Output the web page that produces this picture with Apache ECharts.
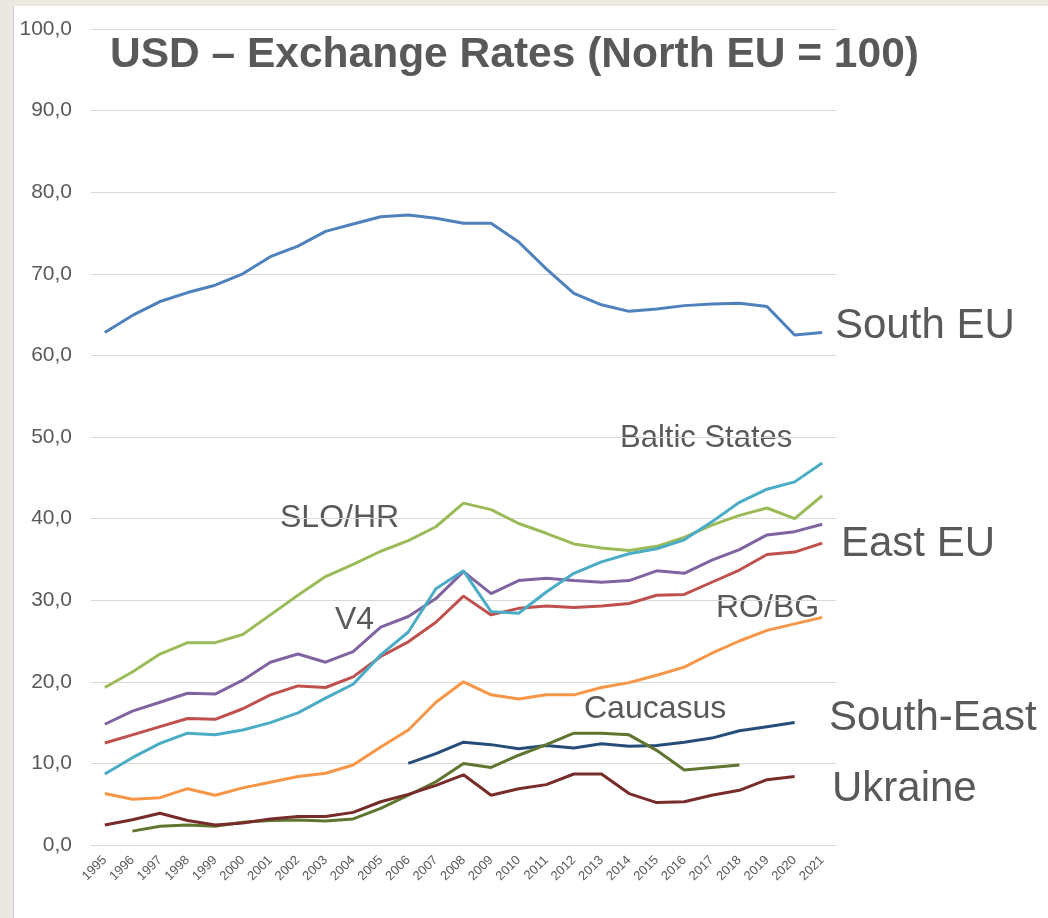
<!DOCTYPE html>
<html>
<head>
<meta charset="utf-8">
<script src="https://cdn.jsdelivr.net/npm/echarts@6/dist/echarts.min.js"></script>
<style>
  html, body { margin: 0; padding: 0; background: #ebe7e1; }
  #panel { position: absolute; left: 13px; top: 6px; width: 1035px; height: 912px; background: #ffffff; border-left: 1px solid #cfcbc6; box-sizing: border-box; }
  #chart { position: absolute; left: 0; top: 0; width: 1048px; height: 918px; }
</style>
</head>
<body>
<div id="panel"></div>
<div id="chart"></div>
<script>
const years = ['1995','1996','1997','1998','1999','2000','2001','2002','2003','2004','2005','2006','2007','2008','2009','2010','2011','2012','2013','2014','2015','2016','2017','2018','2019','2020','2021'];

const southEU     = [62.8, 64.9, 66.6, 67.7, 68.6, 70.0, 72.1, 73.4, 75.2, 76.1, 77.0, 77.2, 76.8, 76.2, 76.2, 73.9, 70.6, 67.6, 66.2, 65.4, 65.7, 66.1, 66.3, 66.4, 66.0, 62.5, 62.8];
const sloHr       = [19.3, 21.2, 23.4, 24.8, 24.8, 25.8, 28.2, 30.6, 32.9, 34.4, 36.0, 37.3, 39.0, 41.9, 41.1, 39.4, 38.2, 36.9, 36.4, 36.1, 36.6, 37.7, 39.2, 40.4, 41.3, 40.0, 42.8];
const v4          = [14.8, 16.4, 17.5, 18.6, 18.5, 20.2, 22.4, 23.4, 22.4, 23.7, 26.7, 28.0, 30.2, 33.5, 30.8, 32.4, 32.7, 32.4, 32.2, 32.4, 33.6, 33.3, 34.9, 36.2, 38.0, 38.4, 39.3];
const eastEU      = [12.5, 13.5, 14.5, 15.5, 15.4, 16.7, 18.4, 19.5, 19.3, 20.6, 23.1, 24.9, 27.3, 30.5, 28.2, 29.0, 29.3, 29.1, 29.3, 29.6, 30.6, 30.7, 32.2, 33.7, 35.6, 35.9, 37.0];
const baltic      = [8.7, 10.7, 12.45, 13.7, 13.5, 14.1, 15.0, 16.2, 18.0, 19.7, 23.3, 26.1, 31.4, 33.6, 28.6, 28.4, 31.0, 33.3, 34.7, 35.7, 36.3, 37.4, 39.6, 42.0, 43.6, 44.5, 46.8];
const roBg        = [6.3, 5.6, 5.8, 6.9, 6.1, 7.0, 7.7, 8.4, 8.8, 9.8, 12.0, 14.1, 17.5, 20.0, 18.4, 17.9, 18.4, 18.4, 19.3, 19.9, 20.8, 21.8, 23.5, 25.0, 26.3, 27.1, 27.9];
const southEast   = [null, null, null, null, null, null, null, null, null, null, null, 10.0, 11.2, 12.6, 12.3, 11.8, 12.2, 11.9, 12.4, 12.1, 12.2, 12.6, 13.1, 14.0, 14.5, 15.0, null];
const caucasus    = [null, 1.7, 2.3, 2.45, 2.3, 2.8, 3.0, 3.05, 2.95, 3.2, 4.5, 6.1, 7.75, 10.0, 9.5, 11.0, 12.3, 13.7, 13.7, 13.5, 11.6, 9.2, 9.5, 9.8, null, null, null];
const ukraine     = [2.45, 3.1, 3.9, 3.0, 2.45, 2.7, 3.2, 3.5, 3.5, 4.0, 5.3, 6.2, 7.3, 8.6, 6.1, 6.9, 7.4, 8.7, 8.7, 6.3, 5.2, 5.3, 6.1, 6.7, 8.0, 8.4, null];

const yTicks = [0, 10, 20, 30, 40, 50, 60, 70, 80, 90, 100];

const titleText = 'USD – Exchange Rates (North EU = 100)';
const seriesNames = ['South EU', 'SLO/HR', 'V4', 'East EU', 'Baltic States', 'RO/BG', 'South-East', 'Caucasus', 'Ukraine'];

const FONT = '"Liberation Sans", Arial, Helvetica, sans-serif';
const TXT = '#595959';

function line(name, data, color) {
  return {
    name: name, type: 'line', data: data, symbol: 'none', smooth: false,
    connectNulls: false,
    lineStyle: { width: 3, color: color }, itemStyle: { color: color },
    emphasis: { disabled: true }
  };
}

function label(text, x, y, size, bold) {
  return {
    type: 'text', x: x, y: y, silent: true,
    style: {
      text: text, x: 0, y: 0, fill: TXT,
      font: (bold ? 'bold ' : '') + size + 'px ' + FONT,
      textAlign: 'left', textVerticalAlign: 'middle'
    }
  };
}

const chart = echarts.init(document.getElementById('chart'), null, { renderer: 'canvas' });
chart.setOption({
  backgroundColor: 'transparent',
  animation: false,
  grid: { left: 91, right: 212, top: 29, bottom: 73, containLabel: false, outerBoundsMode: 'none' },
  xAxis: {
    type: 'category', data: years, boundaryGap: true,
    axisLine: { show: true, lineStyle: { color: '#d9d9d9', width: 1 } },
    axisTick: { show: false },
    axisLabel: { rotate: 45, fontSize: 13, color: TXT, fontFamily: FONT, margin: 13, interval: 0 },
    splitLine: { show: false }
  },
  yAxis: {
    type: 'value', min: yTicks[0], max: yTicks[yTicks.length - 1], interval: 10,
    axisLine: { show: false }, axisTick: { show: false },
    axisLabel: {
      fontSize: 21, color: TXT, fontFamily: FONT, margin: 19,
      formatter: function (v) { return v.toFixed(1).replace('.', ','); }
    },
    splitLine: { show: true, lineStyle: { color: '#d9d9d9', width: 1 } }
  },
  series: [
    line(seriesNames[0], southEU, '#4f81bd'),
    line(seriesNames[1], sloHr, '#9bbb59'),
    line(seriesNames[2], v4, '#8064a2'),
    line(seriesNames[3], eastEU, '#c0504d'),
    line(seriesNames[4], baltic, '#4bacc6'),
    line(seriesNames[5], roBg, '#f79646'),
    line(seriesNames[6], southEast, '#264c7a'),
    line(seriesNames[7], caucasus, '#5f7530'),
    line(seriesNames[8], ukraine, '#772c2a')
  ],
  graphic: [
    label(titleText, 110, 55, 42.5, true),
    label('South EU', 835, 326, 42, false),
    label('Baltic States', 620, 438, 31, false),
    label('SLO/HR', 280, 518, 32, false),
    label('V4', 335, 620, 32, false),
    label('East EU', 841, 544, 42, false),
    label('RO/BG', 716, 608, 32, false),
    label('Caucasus', 584, 709, 32, false),
    label('South-East', 829, 718, 42, false),
    label('Ukraine', 832, 789, 42, false)
  ]
});
</script>
</body>
</html>
